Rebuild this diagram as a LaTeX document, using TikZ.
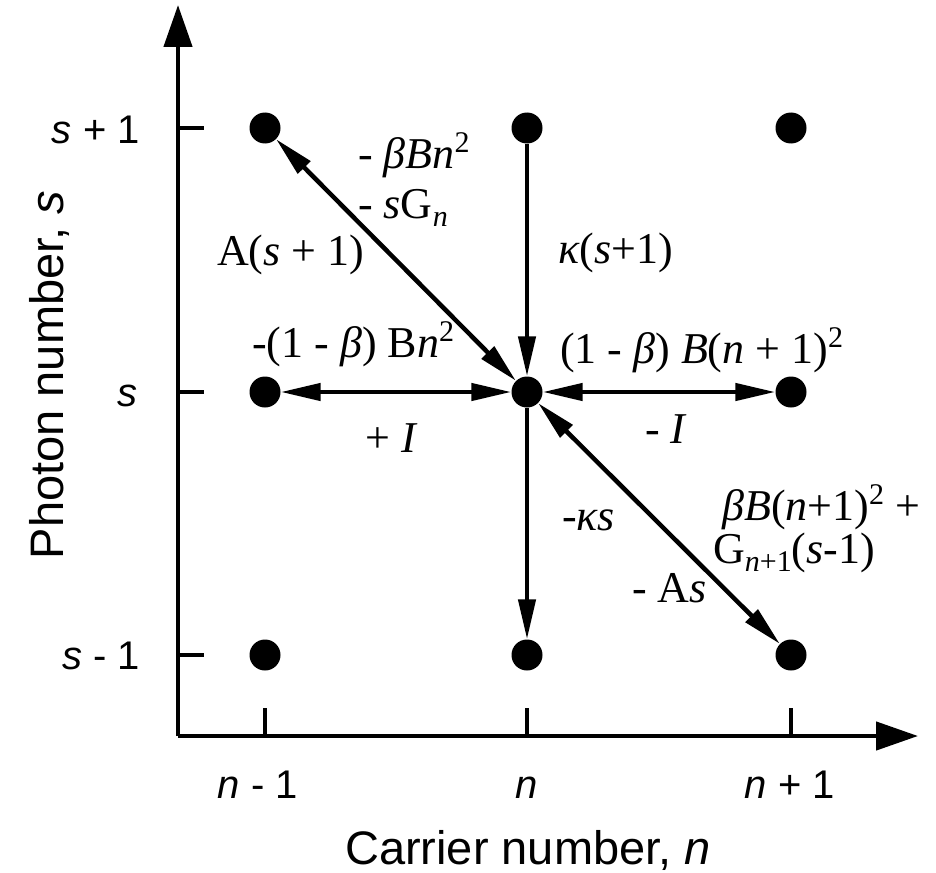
\documentclass[tikz,border=0pt]{standalone}
\usepackage{graphicx}
\usepackage{fontspec}
\setmainfont{Liberation Serif}
\setsansfont{Liberation Sans}
\usetikzlibrary{arrows.meta}
\newcommand\mysup[1]{\raisebox{0.36em}{\fontsize{30}{30}\selectfont #1}}
\newcommand\mysub[1]{\raisebox{-0.2em}{\fontsize{30}{30}\selectfont #1}}
\begin{document}
\begin{tikzpicture}[x=1pt,y=-1pt,
  dot/.style={circle,fill=black,minimum size=31pt,inner sep=0pt},
  lbl/.style={inner sep=0pt,anchor=base west,font=\fontsize{44}{50}\selectfont},
  ticklbl/.style={inner sep=0pt,font=\sffamily\fontsize{40}{46}\selectfont},
  axtitle/.style={inner sep=0pt,anchor=base,font=\sffamily\fontsize{47}{54}\selectfont},
  conn/.style={line width=4.5pt,-{Triangle[length=40pt,width=17pt]}},
  both/.style={line width=4.5pt,{Triangle[length=40pt,width=17pt]}-{Triangle[length=40pt,width=17pt]}},
  axis/.style={line width=4.5pt,-{Triangle[length=42pt,width=28pt]}},
  tickmark/.style={line width=4.5pt},
]
\path[use as bounding box] (0,0) rectangle (936,872);

% axes
\coordinate (O) at (178,736);
\coordinate (ytip) at (178,5);
\coordinate (xtip) at (918,736);
\draw[axis] (O) -- (ytip);
\draw[axis] (O) -- (xtip);

% ticks
\foreach \yy/\nm in {128/a,392/b,655/c}{
  \coordinate (yt\nm) at (178,\yy);
  \coordinate (ye\nm) at (204,\yy);
  \draw[tickmark] (yt\nm) -- (ye\nm);
}
\foreach \xx/\nm in {265/a,527/b,791/c}{
  \coordinate (xt\nm) at (\xx,736);
  \coordinate (xe\nm) at (\xx,708);
  \draw[tickmark] (xt\nm) -- (xe\nm);
}

% dots
\node[dot] (TL) at (265,128) {};
\node[dot] (TC) at (527,128) {};
\node[dot] (TR) at (791,128) {};
\node[dot] (ML) at (265,392) {};
\node[dot] (C)  at (527,392) {};
\node[dot] (MR) at (791,392) {};
\node[dot] (BL) at (265,655) {};
\node[dot] (BC) at (527,655) {};
\node[dot] (BR) at (791,655) {};

% connectors
\draw[conn] (TC) -- (C);
\draw[conn] (C) -- (BC);
\draw[both] (ML) -- (C);
\draw[both] (C) -- (MR);
\draw[both] (TL) -- (C);
\draw[both] (C) -- (BR);

% labels
\node[lbl] (l1) at (358,168) {- \textit{βBn}\mysup{2}};
\node[lbl] (l2) at (358,218) {- \textit{s}G\mysub{\textit{n}}};
\node[lbl] (l3) at (217,265) {A(\textit{s} + 1)};
\node[lbl] (l4) at (558,263) {\textit{κ}(\textit{s}+1)};
\node[lbl] (l5) at (252,357) {-(1 - \textit{β}) B\textit{n}\mysup{2}};
\node[lbl] (l6) at (560,363) {(1 - \textit{β}) \textit{B}(\textit{n} + 1)\mysup{2}};
\node[lbl] (l7) at (365,452) {+ \textit{I}};
\node[lbl] (l8) at (645,443) {- \textit{I}};
\node[lbl] (l9) at (722,520) {\textit{βB}(\textit{n}+1)\mysup{2} +};
\node[lbl] (l10) at (713,563) {G\mysub{\textit{n}+1}(\textit{s}-1)};
\node[lbl] (l11) at (562,530) {-\textit{κs}};
\node[lbl] (l12) at (632,602) {- A\textit{s}};

% tick labels
\node[ticklbl,anchor=base east] (s1) at (140,143) {\textit{s} + 1};
\node[ticklbl,anchor=base east] (s0) at (138,406) {\textit{s}};
\node[ticklbl,anchor=base east] (sm) at (140,669) {\textit{s} - 1};
\node[ticklbl,anchor=base] (nm) at (258,798) {\textit{n} - 1};
\node[ticklbl,anchor=base] (n0) at (527,798) {\textit{n}};
\node[ticklbl,anchor=base] (n1) at (790,798) {\textit{n} + 1};

% axis titles
\node[axtitle] (xt) at (528,864) {Carrier number, \textit{n}};
\node[axtitle,rotate=90] (yt) at (63,375) {Photon number, \textit{s}};
\end{tikzpicture}
\end{document}
